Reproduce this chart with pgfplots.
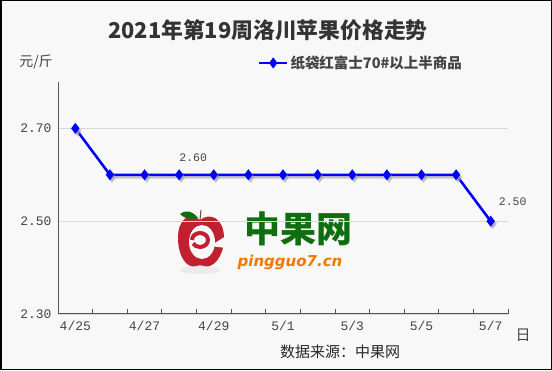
\documentclass[border=0pt]{standalone}
\usepackage{pgfplots}
\pgfplotsset{compat=1.18}
\usepackage{fontspec}
\setmainfont{Noto Sans CJK SC}
\newfontfamily\dejavu{DejaVu Sans}
\newfontfamily\monof{Liberation Mono}
\definecolor{bgc}{HTML}{F8F8F8}
\definecolor{txt}{HTML}{444444}
\definecolor{axc}{HTML}{555555}
\definecolor{gridc}{HTML}{D8D8D8}
\definecolor{appred}{HTML}{C0202F}
\definecolor{zgreen}{HTML}{0F6E0F}
\definecolor{zorange}{HTML}{F07800}
\begin{document}
\begin{tikzpicture}[x=1pt,y=1pt]
\fill[bgc] (0,0) rectangle (552,370);
\draw[black,line width=1.5pt] (0.75,0.75) rectangle (551.25,369.25);
% watermark
\fill[black!8] (200,100) ellipse (20 and 4);
\fill[appred] (200,150) .. controls (190,158) and (178,152) .. (178,132) .. controls (178,112) and (188,101) .. (196,104) .. controls (199,105) and (201,105) .. (204,104) .. controls (212,101) and (224,112) .. (224,132) .. controls (224,152) and (210,158) .. (200,150) -- cycle;
\fill[bgc] (202,128) ellipse (13 and 17);
\draw[appred,line width=4pt] (192,130) arc (180:-150:8 and 7);
\fill[bgc] (210,124) -- (226,122) -- (226,134) -- cycle;
\fill[zgreen] (198,152) .. controls (192,160) and (184,160) .. (180,156) .. controls (186,150) and (194,150) .. (198,152) -- cycle;
\draw[brown!60!black,line width=1pt] (200,150) -- (201,160);
\node[font=\fontsize{36}{36}\selectfont\bfseries, text=zgreen, inner sep=0pt] at (298,141) {中果网};
\node[font=\dejavu\fontsize{15}{15}\selectfont\bfseries\itshape, text=zorange, inner sep=0pt] at (290,108) {pingguo7.cn};
% texts
\node[font=\fontsize{21.8}{22}\selectfont\bfseries, text=black!80, inner sep=0pt] at (268,340) {2021年第19周洛川苹果价格走势};
\node[font=\fontsize{14}{14}\selectfont, text=txt, inner sep=0pt] at (36,308) {元/斤};
\node[font=\fontsize{15}{15}\selectfont, text=txt, inner sep=0pt] at (523,35) {日};
\node[font=\fontsize{15}{15}\selectfont, text=black!85, inner sep=0pt] at (340,18) {数据来源：中果网};
\begin{axis}[
  at={(58pt,56pt)}, anchor=south west,
  width=450pt, height=232pt, scale only axis,
  xmin=-0.5, xmax=12.5, ymin=2.3, ymax=2.8,
  axis x line*=bottom, axis y line*=left,
  axis line style={color=axc, line width=1pt, -},
  xtick={0,2,...,12},
  xticklabels={4/25,4/27,4/29,5/1,5/3,5/5,5/7},
  minor xtick={-0.5,0.5,...,12.5},
  xtick align=inside,
  major x tick style={draw=none},
  minor x tick style={color=axc, line width=0.8pt},
  minor tick length=5pt,
  ytick={2.3,2.5,2.7},
  yticklabels={2.30,2.50,2.70},
  major y tick style={draw=none},
  ymajorgrids, grid style={color=gridc, line width=0.8pt},
  tick label style={font=\monof\fontsize{13}{13}\selectfont, text=txt},
  xticklabel style={yshift=-4pt},
  yticklabel style={xshift=-3pt},
  legend style={at={(0.444,1.082)}, anchor=west, draw=none, fill=none,
    font=\fontsize{14.5}{14.5}\selectfont\bfseries, text=txt, inner sep=0pt},
  legend image code/.code={\draw[mark repeat=2,mark phase=2,#1] plot coordinates {(0pt,0pt) (14pt,0pt) (28pt,0pt)};},
  clip=false,
]
\addplot[black!35, opacity=0.6, line width=2.5pt, mark=diamond*, mark size=3.5pt, xshift=2pt, yshift=-2.5pt, forget plot]
  coordinates {(0,2.70) (1,2.60) (2,2.60) (3,2.60) (4,2.60) (5,2.60) (6,2.60) (7,2.60) (8,2.60) (9,2.60) (10,2.60) (11,2.60) (12,2.50)};
\addplot[blue, line width=2.5pt, mark=diamond*, mark size=3.5pt, mark options={fill=blue}]
  coordinates {(0,2.70) (1,2.60) (2,2.60) (3,2.60) (4,2.60) (5,2.60) (6,2.60) (7,2.60) (8,2.60) (9,2.60) (10,2.60) (11,2.60) (12,2.50)};
\addlegendentry{纸袋红富士70\#以上半商品}
\node[anchor=west, font=\monof\fontsize{11.5}{11.5}\selectfont, text=txt, inner sep=0pt] at (axis cs:3,2.6) [yshift=17pt] {2.60};
\node[anchor=west, font=\monof\fontsize{11.5}{11.5}\selectfont, text=txt, inner sep=0pt] at (axis cs:12,2.5) [xshift=8pt, yshift=19pt] {2.50};
\end{axis}
\end{tikzpicture}
\end{document}
